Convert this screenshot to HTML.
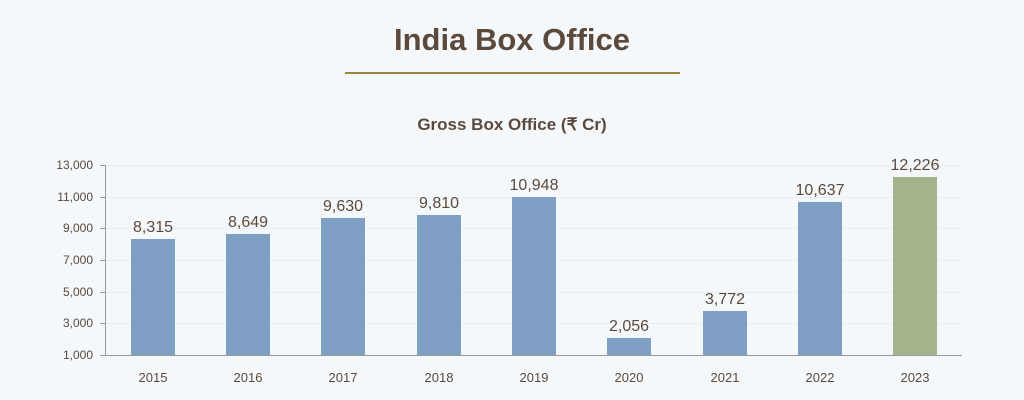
<!DOCTYPE html>
<html><head><meta charset="utf-8"><style>
html,body{margin:0;padding:0;background:#f5f8fb;}
svg{display:block;font-family:"Liberation Sans",sans-serif;}
</style></head><body>
<svg width="1024" height="400" xmlns="http://www.w3.org/2000/svg">
<rect width="1024" height="400" fill="#f5f8fb"/>
<text x="512" y="50" text-anchor="middle" font-size="31" font-weight="bold" fill="#5b4a3c">India Box Office</text>
<rect x="345" y="72" width="335" height="2" fill="#9c8540"/>
<text x="512" y="130" text-anchor="middle" font-size="17" font-weight="bold" fill="#5b4a3c">Gross Box Office (₹ Cr)</text>
<g stroke="#e8eef3" stroke-width="1">
<line x1="105" y1="165.5" x2="962" y2="165.5"/><line x1="105" y1="197.5" x2="962" y2="197.5"/>
<line x1="105" y1="228.5" x2="962" y2="228.5"/><line x1="105" y1="260.5" x2="962" y2="260.5"/>
<line x1="105" y1="292.5" x2="962" y2="292.5"/><line x1="105" y1="323.5" x2="962" y2="323.5"/>
</g>
<g font-size="12" fill="#5b4a3c" text-anchor="end">
<text x="93" y="169">13,000</text><text x="93" y="201">11,000</text><text x="93" y="232">9,000</text>
<text x="93" y="264">7,000</text><text x="93" y="296">5,000</text><text x="93" y="327">3,000</text><text x="93" y="359">1,000</text>
</g>
<g stroke="#999" stroke-width="1">
<line x1="105.5" y1="165" x2="105.5" y2="355"/><line x1="105" y1="355.5" x2="962" y2="355.5"/>
<line x1="100" y1="165.5" x2="105" y2="165.5"/><line x1="100" y1="197.5" x2="105" y2="197.5"/><line x1="100" y1="228.5" x2="105" y2="228.5"/><line x1="100" y1="260.5" x2="105" y2="260.5"/><line x1="100" y1="292.5" x2="105" y2="292.5"/><line x1="100" y1="323.5" x2="105" y2="323.5"/><line x1="100" y1="355.5" x2="105" y2="355.5"/>
</g>
<g fill="#7f9fc4">
<rect x="131" y="239" width="44" height="116"/>
<rect x="226" y="234" width="44" height="121"/>
<rect x="321" y="218" width="44" height="137"/>
<rect x="417" y="215" width="44" height="140"/>
<rect x="512" y="197" width="44" height="158"/>
<rect x="607" y="338" width="44" height="17"/>
<rect x="703" y="311" width="44" height="44"/>
<rect x="798" y="202" width="44" height="153"/>
</g>
<rect x="893" y="177" width="44" height="178" fill="#a3b48d"/>
<g font-size="16" fill="#5b4a3c" text-anchor="middle">
<text x="153" y="232">8,315</text><text x="248" y="227">8,649</text><text x="343" y="211">9,630</text>
<text x="439" y="208">9,810</text><text x="534" y="190">10,948</text><text x="629" y="331">2,056</text>
<text x="725" y="304">3,772</text><text x="820" y="195">10,637</text><text x="915" y="170">12,226</text>
</g>
<g font-size="13" fill="#5b4a3c" text-anchor="middle">
<text x="153" y="382">2015</text><text x="248" y="382">2016</text><text x="343" y="382">2017</text>
<text x="439" y="382">2018</text><text x="534" y="382">2019</text><text x="629" y="382">2020</text>
<text x="725" y="382">2021</text><text x="820" y="382">2022</text><text x="915" y="382">2023</text>
</g>
</svg>
</body></html>
